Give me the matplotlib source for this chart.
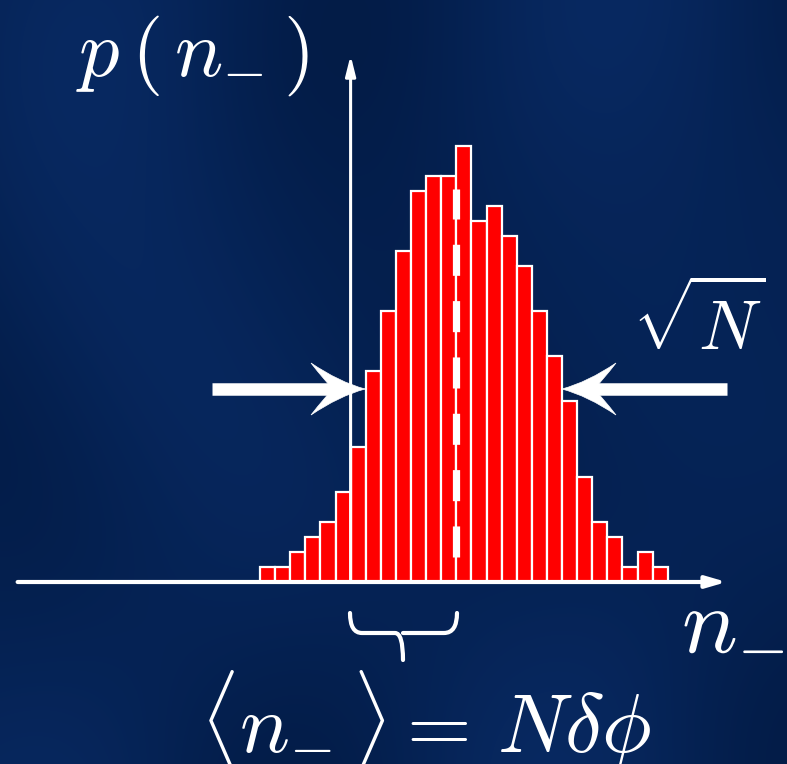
import numpy as np
import matplotlib
matplotlib.use("Agg")
import matplotlib.pyplot as plt
import matplotlib.patheffects as pe
from matplotlib.path import Path
from matplotlib.patches import PathPatch

plt.rcParams['mathtext.fontset'] = 'cm'

# histogram of n_- : counts per bin (bin index 0..26)
bin_index = np.arange(27)
counts = [1, 1, 2, 3, 4, 6, 9, 14, 18, 22, 26, 27, 27, 29,
          24, 25, 23, 21, 18, 15, 12, 7, 4, 3, 1, 2, 1]
mean_bin = 13.0          # <n_-> position on the bin axis
axis_x = 6.0             # where the p(n_-) axis crosses

W, H = 787, 764
fig = plt.figure(figsize=(W / 100, H / 100), dpi=100)

# background with soft wavy shading
bg = fig.add_axes([0, 0, 1, 1], zorder=0)
yy, xx = np.mgrid[0:H, 0:W] / 100.0
shade = (0.5 + 0.25 * np.sin(1.3 * xx + 0.8 * np.sin(0.9 * yy))
         + 0.25 * np.sin(0.7 * yy - 1.1 * xx + 2.0))
base = np.array([0.012, 0.11, 0.28])
top = np.array([0.03, 0.16, 0.38])
img = base + (top - base) * shade[..., None]
bg.imshow(np.clip(img, 0, 1), extent=[0, W, H, 0], aspect='auto')
bg.set_xlim(0, W)
bg.set_ylim(H, 0)
bg.axis('off')

# main histogram axes, scaled so one bin = 15.1 px and one count = 15.05 px
ax = fig.add_axes([0, 0, 1, 1], zorder=1)
ax.patch.set_alpha(0)
ax.set_xlim(-260 / 15.1, (W - 260) / 15.1)
ax.set_ylim(-182 / 15.05, (H - 182) / 15.05)
ax.axis('off')

ax.bar(bin_index, counts, width=1.0, align='edge', color='#ff0000',
       edgecolor='white', linewidth=1.6, zorder=2)

# mean marker
ax.plot([mean_bin, mean_bin], [1.65, 26.1], color='white', lw=5.2,
        linestyle=(0, (4.3, 3.5)), solid_capstyle='butt',
        dash_capstyle='butt', zorder=3)

# coordinate axes with arrow tips
ax.annotate('', xy=(30.9, 0), xytext=(-16.05, 0),
            arrowprops=dict(arrowstyle='-|>,head_length=1.2,head_width=0.35',
                            color='white', lw=3, shrinkA=0, shrinkB=0),
            zorder=4)
ax.annotate('', xy=(axis_x, 35.0), xytext=(axis_x, 0),
            arrowprops=dict(arrowstyle='-|>,head_length=1.2,head_width=0.3',
                            color='white', lw=2.2, shrinkA=0, shrinkB=0),
            zorder=4)

# overlay in pixel coordinates for the width arrows, brace and labels
ov = fig.add_axes([0, 0, 1, 1], zorder=2)
ov.patch.set_alpha(0)
ov.set_xlim(0, W)
ov.set_ylim(H, 0)
ov.axis('off')


def head(tip_x, tip_y, d):
    # concave arrow head pointing in direction d (+1 right, -1 left)
    verts = [(0, 0), (-26, -7), (-54, -26),
             (-40, -8), (-32, 0),
             (-40, 8), (-54, 26),
             (-26, 7), (0, 0)]
    codes = [Path.MOVETO, Path.CURVE3, Path.CURVE3,
             Path.CURVE3, Path.CURVE3,
             Path.CURVE3, Path.CURVE3,
             Path.CURVE3, Path.CURVE3]
    verts = [(tip_x + d * vx, tip_y + vy) for vx, vy in verts]
    return PathPatch(Path(verts, codes), facecolor='white',
                     edgecolor='white', lw=0.5)


ov.plot([212, 335], [389, 389], color='white', lw=9, solid_capstyle='butt')
ov.add_patch(head(365, 389, 1))
ov.plot([727, 592], [389, 389], color='white', lw=9, solid_capstyle='butt')
ov.add_patch(head(562, 389, -1))

# brace under the axis from the crossing point to the mean
brace = Path([(350, 613), (350, 633), (362, 633), (395, 633),
              (403, 633), (403, 660),
              (403, 633), (411, 633), (444, 633),
              (457, 633), (457, 613)],
             [Path.MOVETO, Path.CURVE3, Path.CURVE3, Path.LINETO,
              Path.CURVE3, Path.CURVE3,
              Path.MOVETO, Path.CURVE3, Path.LINETO,
              Path.CURVE3, Path.CURVE3])
ov.add_patch(PathPatch(brace, facecolor='none', edgecolor='white', lw=3,
                       capstyle='round'))

ov.text(76, 76, r'$p\,(\,n_{-}\,)$', color='white', fontsize=58,
        ha='left', va='baseline')
ov.text(632, 350, r'$\sqrt{N}$', color='white', fontsize=50,
        ha='left', va='baseline')
# drawn as a path so the subscript near the right edge is rendered
ov.text(682, 653, r'$n_{-}$', color='white', fontsize=67,
        ha='left', va='baseline', path_effects=[pe.Normal()])
ov.text(200, 752, r'$\langle n_{-}\,\rangle = \,N\delta\phi$',
        color='white', fontsize=60, ha='left', va='baseline')

fig.savefig('out.png', dpi=100)
